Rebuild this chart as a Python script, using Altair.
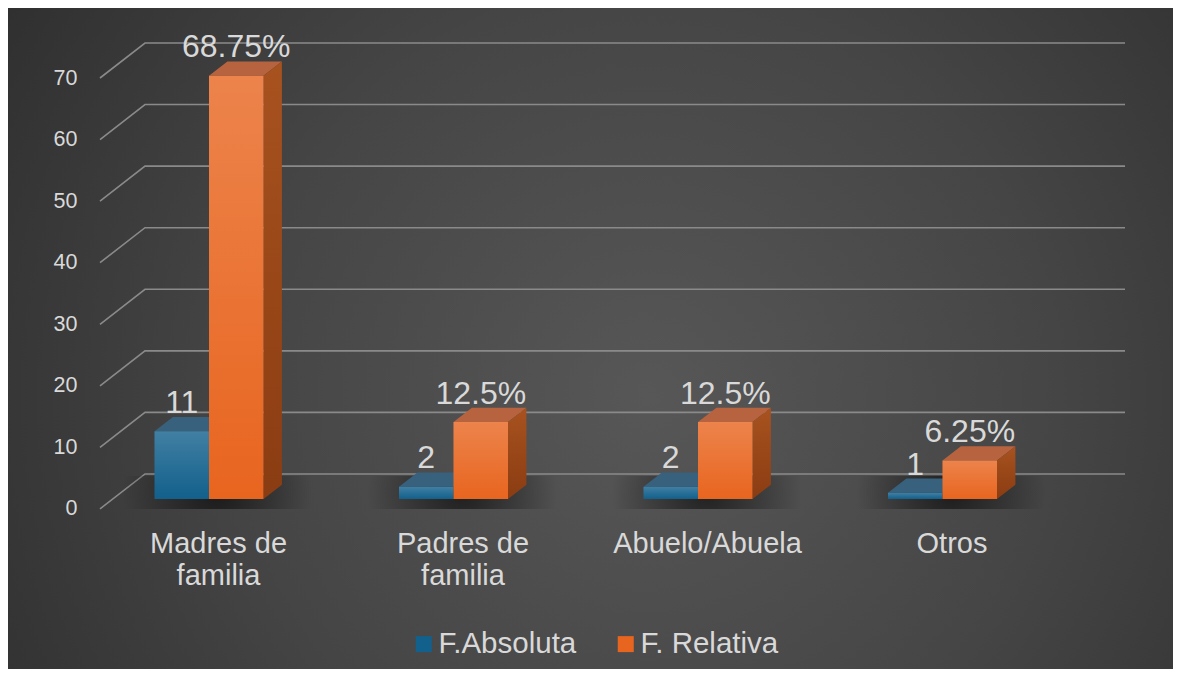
import json
import altair as alt
import pandas as pd

# ---------------- data ----------------
CATEGORIES = ["Madres de familia", "Padres de familia", "Abuelo/Abuela", "Otros"]
CATEGORY_LINES = [["Madres de", "familia"], ["Padres de", "familia"], ["Abuelo/Abuela"], ["Otros"]]
SERIES = ["F.Absoluta", "F. Relativa"]
ABSOLUTA = [11, 2, 2, 1]
RELATIVA = [68.75, 12.5, 12.5, 6.25]
ABS_LABELS = ["11", "2", "2", "1"]
REL_LABELS = ["68.75%", "12.5%", "12.5%", "6.25%"]
Y_TICKS = [0, 10, 20, 30, 40, 50, 60, 70]

# ---------------- layout / style ----------------
W, H = 1025, 466
PAD = dict(left=92, top=35, right=48, bottom=160)
PX_PER_CAT = 244.5
PX_PER_UNIT = 6.157
X0 = 109.0
X_DOMAIN = [-X0 / PX_PER_CAT, (W - X0) / PX_PER_CAT]
Y_DOMAIN = [70 - H / PX_PER_UNIT, 70]

FLOOR_DX, FLOOR_DY = 45.0, 35.0
BAR_W = 54.5
FRONT_OFF = 25.0
DEPTH_X, DEPTH_Y = 18.4, 14.3

TEXT = "#d9d9d9"
FONT = "Liberation Sans"
BLUE, ORANGE = "#12608c", "#e8651f"
BLUE_TOP, ORANGE_TOP = "#38617d", "#b8633f"

xs = alt.Scale(domain=X_DOMAIN, nice=False, zero=False)
ys = alt.Scale(domain=Y_DOMAIN, nice=False, zero=False)

# ---------------- tables ----------------
grid_rows = []
for v in Y_TICKS:
    grid_rows += [
        dict(t=v, o=0, x=X_DOMAIN[0], y=v - FLOOR_DY / PX_PER_UNIT),
        dict(t=v, o=1, x=(FLOOR_DX - X0) / PX_PER_CAT, y=v),
        dict(t=v, o=2, x=X_DOMAIN[1], y=v),
    ]
grid_df = pd.DataFrame(grid_rows)

bw = BAR_W / PX_PER_CAT
dxu = DEPTH_X / PX_PER_CAT
dyu = DEPTH_Y / PX_PER_UNIT

front_rows, top_rows, side_rows, label_rows, shadow_rows = [], [], [], [], []
for i, cat in enumerate(CATEGORIES):
    shadow_rows.append(dict(x=i - bw - 0.13, x2=i + bw + 0.2))
    for s, (vals, labs, topc) in enumerate([(ABSOLUTA, ABS_LABELS, BLUE_TOP), (RELATIVA, REL_LABELS, ORANGE_TOP)]):
        v = vals[i]
        xl = i - bw if s == 0 else i
        xr = xl + bw
        key = f"{i}-{s}"
        front_rows.append(dict(cat=cat, serie=SERIES[s], x=xl, x2=xr, y=v, y2=0))
        for (px, py, py2) in [(xl, v, v), (xl + dxu, v + dyu, v), (xr, v + dyu, v), (xr + dxu, v + dyu, v + dyu)]:
            top_rows.append(dict(k=key, x=px, y=py, y2=py2, c=topc))
        if s == 1:
            side_rows += [dict(k=key, x=xr, y=v, y2=0), dict(k=key, x=xr + dxu, y=v + dyu, y2=dyu)]
        label_rows.append(dict(x=(xl + xr) / 2, y=v, t=labs[i]))

front_df = pd.DataFrame(front_rows)
top_df = pd.DataFrame(top_rows)
side_df = pd.DataFrame(side_rows)
label_df = pd.DataFrame(label_rows)
shadow_df = pd.DataFrame(shadow_rows)

# ---------------- layers ----------------
bg = alt.Chart(pd.DataFrame({"a": [0]})).mark_rect(
    fill=alt.Gradient(
        gradient="radial", x1=0.55, y1=0.55, r1=0, x2=0.55, y2=0.55, r2=0.78,
        stops=[alt.GradientStop(color="#575757", offset=0),
               alt.GradientStop(color="#454545", offset=0.45),
               alt.GradientStop(color="#262626", offset=1)],
    )
).encode(
    x=alt.value(-PAD["left"]), x2=alt.value(W + PAD["right"]),
    y=alt.value(-PAD["top"]), y2=alt.value(H + PAD["bottom"]),
)

grid = alt.Chart(grid_df).mark_line(color="#8a8a8a", strokeWidth=1.6).encode(
    x=alt.X("x:Q", scale=xs, axis=alt.Axis(
        values=[0, 1, 2, 3], title=None, grid=False, ticks=False, domain=False, zindex=1,
        labelExpr=json.dumps(CATEGORY_LINES) + "[round(datum.value)]",
        labelFontSize=29, labelColor=TEXT, labelFont=FONT, labelOffset=9,
        labelPadding=20, labelLineHeight=32, labelFlush=False, labelOverlap=False,
        labelBound=False, labelLimit=500)),
    y=alt.Y("y:Q", scale=ys, axis=alt.Axis(
        values=Y_TICKS, title=None, grid=False, ticks=False, tickSize=0, domain=False, zindex=1,
        labelFontSize=21.5, labelColor=TEXT, labelFont=FONT, labelOffset=FLOOR_DY,
        labelPadding=23, labelFlush=False, labelOverlap=False)),
    detail="t:N",
    order="o:Q",
)

shadow = alt.Chart(shadow_df).mark_rect(
    fill=alt.Gradient(
        gradient="radial", x1=0.5, y1=0.5, r1=0, x2=0.5, y2=0.5, r2=0.5,
        stops=[alt.GradientStop(color="rgba(0,0,0,0.6)", offset=0),
               alt.GradientStop(color="rgba(0,0,0,0.3)", offset=0.5),
               alt.GradientStop(color="rgba(0,0,0,0)", offset=1)],
    ),
    yOffset=2, y2Offset=35,
).encode(
    x=alt.X("x:Q", scale=xs), x2="x2:Q",
    y=alt.YDatum(0), y2=alt.Y2Datum(0),
)

tops = alt.Chart(top_df).mark_area(orient="vertical", yOffset=FRONT_OFF, y2Offset=FRONT_OFF).encode(
    x=alt.X("x:Q", scale=xs),
    y=alt.Y("y:Q", scale=ys, stack=None),
    y2="y2:Q",
    detail="k:N",
    fill=alt.Fill("c:N", scale=None),
)

sides = alt.Chart(side_df).mark_area(
    orient="vertical", yOffset=FRONT_OFF, y2Offset=FRONT_OFF,
    fill=alt.Gradient(gradient="linear", x1=0, y1=0, x2=0, y2=1,
                      stops=[alt.GradientStop(color="#a8521f", offset=0),
                             alt.GradientStop(color="#8a3c12", offset=1)]),
).encode(
    x=alt.X("x:Q", scale=xs),
    y=alt.Y("y:Q", scale=ys, stack=None),
    y2="y2:Q",
    detail="k:N",
)

fronts = alt.Chart(front_df).mark_rect(yOffset=FRONT_OFF, y2Offset=FRONT_OFF).encode(
    x=alt.X("x:Q", scale=xs), x2="x2:Q",
    y=alt.Y("y:Q", scale=ys), y2="y2:Q",
    color=alt.Color("serie:N", scale=alt.Scale(domain=SERIES, range=[BLUE, ORANGE]),
                    legend=alt.Legend(
                        title=None, orient="none", legendX=309, legendY=586,
                        direction="horizontal", symbolType="square", symbolSize=256,
                        symbolStrokeWidth=0, symbolOpacity=1, labelFontSize=29.5, labelColor=TEXT,
                        labelFont=FONT, labelOffset=0, columnPadding=34, labelLimit=400, zindex=1)),
)

shine = alt.Chart(front_df).mark_rect(
    yOffset=FRONT_OFF, y2Offset=FRONT_OFF,
    fill=alt.Gradient(gradient="linear", x1=0, y1=0, x2=0, y2=1,
                      stops=[alt.GradientStop(color="rgba(255,255,255,0.2)", offset=0),
                             alt.GradientStop(color="rgba(255,255,255,0)", offset=1)]),
).encode(
    x=alt.X("x:Q", scale=xs), x2="x2:Q",
    y=alt.Y("y:Q", scale=ys), y2="y2:Q",
)

labels = alt.Chart(label_df).mark_text(
    fontSize=32, font=FONT, color=TEXT, baseline="alphabetic", align="center", dy=6.7
).encode(
    x=alt.X("x:Q", scale=xs), y=alt.Y("y:Q", scale=ys), text="t:N",
)

chart = alt.layer(bg, grid, shadow, tops, sides, fronts, shine, labels).properties(
    width=W, height=H, padding=PAD,
    autosize=alt.AutoSizeParams(type="none"),
    background="#2a2a2a",
).configure_view(stroke=None)

chart.save("out.html", embed_options={"renderer": "svg", "actions": False})
